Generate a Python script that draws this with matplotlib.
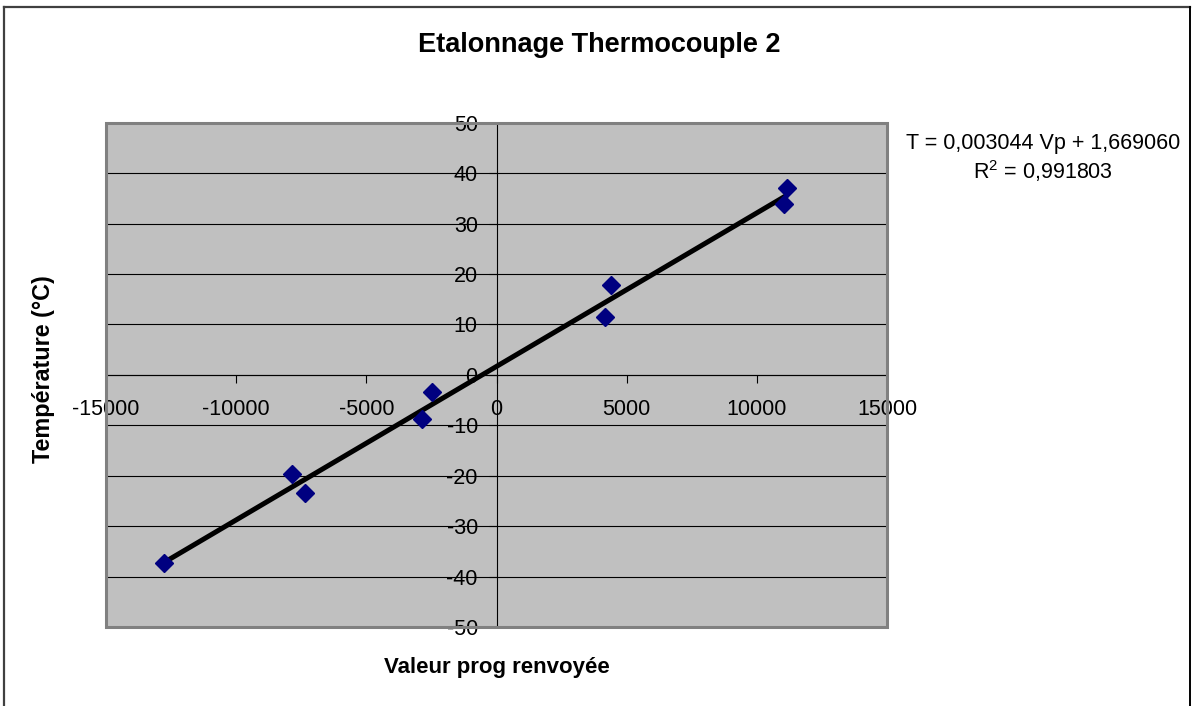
import numpy as np
import matplotlib
matplotlib.use("Agg")
import matplotlib.pyplot as plt
from matplotlib.patches import Rectangle
from matplotlib.lines import Line2D

# ---- data ----
vp_values = [-12774, -7868, -7357, -2874, -2466, 4168, 4387, 11045, 11172]
temp_values = [-37.3, -19.6, -23.5, -8.8, -3.4, 11.5, 17.9, 33.9, 37.1]
slope = 0.003044
intercept = 1.669060
r_squared = 0.991803
x_ticks = [-15000, -10000, -5000, 0, 5000, 10000, 15000]
y_ticks = [-50, -40, -30, -20, -10, 0, 10, 20, 30, 40, 50]

title_text = "Etalonnage Thermocouple 2"
xlabel_text = "Valeur prog renvoyée"
ylabel_text = "Température (°C)"
eq_text = "T = 0,003044 Vp + 1,669060"
r2_text = "R$^{2}$ = 0,991803"

plt.rcParams['font.family'] = ['Liberation Sans', 'DejaVu Sans']
plt.rcParams['mathtext.fontset'] = 'custom'
plt.rcParams['mathtext.rm'] = 'Liberation Sans'
plt.rcParams['mathtext.it'] = 'Liberation Sans'
plt.rcParams['mathtext.default'] = 'regular'

W, H = 1195, 706
fig = plt.figure(figsize=(W / 100, H / 100), dpi=100)
fig.patch.set_facecolor('white')

left, right, top, bottom = 106, 887, 122.7, 627
ax = fig.add_axes([left / W, 1 - bottom / H, (right - left) / W, (bottom - top) / H])
ax.set_facecolor('#C0C0C0')
ax.set_xlim(-15000, 15000)
ax.set_ylim(-50, 50)

for s in ['top', 'right']:
    ax.spines[s].set_visible(False)
ax.spines['left'].set_position(('data', 0))
ax.spines['bottom'].set_position(('data', 0))
for s in ['left', 'bottom']:
    ax.spines[s].set_color('black')
    ax.spines[s].set_linewidth(0.8)
    ax.spines[s].set_zorder(3)

ax.set_xticks(x_ticks)
ax.set_yticks(y_ticks)
ax.set_xticklabels([str(v) for v in x_ticks])
ax.set_yticklabels([str(v) for v in y_ticks])
ax.tick_params(axis='x', direction='out', length=5.5, width=0.8, labelsize=15.5, pad=12)
ax.tick_params(axis='y', direction='out', length=5.5, width=0.8, labelsize=15.5, pad=8)

ax.yaxis.grid(True, color='black', linewidth=0.8)
ax.set_axisbelow(True)

# plot-area border
ax.add_patch(Rectangle((0, 0), 1, 1, transform=ax.transAxes, fill=False,
                       edgecolor='#808080', linewidth=2.2, clip_on=False, zorder=4))

# trendline
xs = np.array([min(vp_values), max(vp_values)])
ax.plot(xs, slope * xs + intercept, color='black', linewidth=3.6, zorder=5,
        solid_capstyle='butt')
# data points
ax.plot(vp_values, temp_values, linestyle='none', marker='D', markersize=9.5,
        color='#000080', markeredgecolor='#000080', zorder=6)

# texts
fig.text(599.5 / W, 1 - 52 / H, title_text, ha='center', va='baseline',
         fontsize=19.5, fontweight='bold')
fig.text(497 / W, 1 - 668 / H, xlabel_text, ha='center', va='center',
         fontsize=16, fontweight='bold')
fig.text(44 / W, 1 - 369 / H, ylabel_text, ha='center', va='center',
         rotation=90, fontsize=16.8, fontweight='bold')
fig.text(1043 / W, 1 - 143.5 / H, eq_text, ha='center', va='center', fontsize=15.5)
fig.text(1043 / W, 1 - 171 / H, r2_text, ha='center', va='center', fontsize=15.5)

# outer chart border
fig.add_artist(Line2D([3.5 / W, 1189.5 / W], [1 - 6.5 / H, 1 - 6.5 / H],
                      transform=fig.transFigure, color='#404040', linewidth=1.6))
fig.add_artist(Line2D([3.5 / W, 3.5 / W], [1 - 6.5 / H, 0], transform=fig.transFigure,
                      color='#404040', linewidth=1.6))
fig.add_artist(Line2D([1189.5 / W, 1189.5 / W], [1 - 6.5 / H, 0], transform=fig.transFigure,
                      color='black', linewidth=1.4))

fig.savefig('out.png', dpi=100, facecolor='white')
